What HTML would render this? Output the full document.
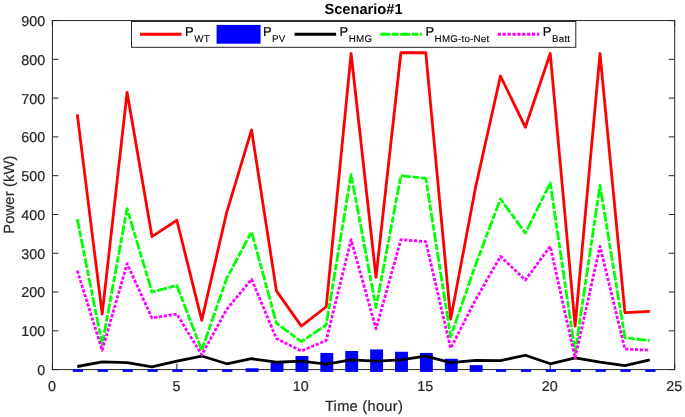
<!DOCTYPE html><html><head><meta charset="utf-8"><title>Scenario#1</title>
<style>html,body{margin:0;padding:0;background:#fff}svg{display:block}text{font-family:"Liberation Sans",Arial,Helvetica,sans-serif;text-rendering:geometricPrecision}.t{fill:#262626;stroke:#262626;stroke-width:0.2px}.k{fill:#000}</style></head><body>
<svg width="685" height="417" viewBox="0 0 685 417">
<rect width="685" height="417" fill="#fff"/>
<rect x="52.4" y="20.55" width="622.3000000000001" height="349.05" fill="none" stroke="#262626" stroke-width="1"/>
<line x1="52.40" y1="369.6" x2="52.40" y2="363.6" stroke="#262626" stroke-width="1"/>
<line x1="52.40" y1="20.55" x2="52.40" y2="26.55" stroke="#262626" stroke-width="1"/>
<text x="51.90" y="391.0" font-size="14.3" text-anchor="middle" class="t">0</text>
<line x1="176.86" y1="369.6" x2="176.86" y2="363.6" stroke="#262626" stroke-width="1"/>
<line x1="176.86" y1="20.55" x2="176.86" y2="26.55" stroke="#262626" stroke-width="1"/>
<text x="176.36" y="391.0" font-size="14.3" text-anchor="middle" class="t">5</text>
<line x1="301.32" y1="369.6" x2="301.32" y2="363.6" stroke="#262626" stroke-width="1"/>
<line x1="301.32" y1="20.55" x2="301.32" y2="26.55" stroke="#262626" stroke-width="1"/>
<text x="300.82" y="391.0" font-size="14.3" text-anchor="middle" class="t">10</text>
<line x1="425.78" y1="369.6" x2="425.78" y2="363.6" stroke="#262626" stroke-width="1"/>
<line x1="425.78" y1="20.55" x2="425.78" y2="26.55" stroke="#262626" stroke-width="1"/>
<text x="425.28" y="391.0" font-size="14.3" text-anchor="middle" class="t">15</text>
<line x1="550.24" y1="369.6" x2="550.24" y2="363.6" stroke="#262626" stroke-width="1"/>
<line x1="550.24" y1="20.55" x2="550.24" y2="26.55" stroke="#262626" stroke-width="1"/>
<text x="549.74" y="391.0" font-size="14.3" text-anchor="middle" class="t">20</text>
<line x1="674.70" y1="369.6" x2="674.70" y2="363.6" stroke="#262626" stroke-width="1"/>
<line x1="674.70" y1="20.55" x2="674.70" y2="26.55" stroke="#262626" stroke-width="1"/>
<text x="674.20" y="391.0" font-size="14.3" text-anchor="middle" class="t">25</text>
<line x1="52.4" y1="369.60" x2="58.4" y2="369.60" stroke="#262626" stroke-width="1"/>
<line x1="674.7" y1="369.60" x2="668.7" y2="369.60" stroke="#262626" stroke-width="1"/>
<text x="45.2" y="375.00" font-size="14.3" text-anchor="end" class="t">0</text>
<line x1="52.4" y1="330.82" x2="58.4" y2="330.82" stroke="#262626" stroke-width="1"/>
<line x1="674.7" y1="330.82" x2="668.7" y2="330.82" stroke="#262626" stroke-width="1"/>
<text x="45.2" y="336.22" font-size="14.3" text-anchor="end" class="t">100</text>
<line x1="52.4" y1="292.03" x2="58.4" y2="292.03" stroke="#262626" stroke-width="1"/>
<line x1="674.7" y1="292.03" x2="668.7" y2="292.03" stroke="#262626" stroke-width="1"/>
<text x="45.2" y="297.43" font-size="14.3" text-anchor="end" class="t">200</text>
<line x1="52.4" y1="253.25" x2="58.4" y2="253.25" stroke="#262626" stroke-width="1"/>
<line x1="674.7" y1="253.25" x2="668.7" y2="253.25" stroke="#262626" stroke-width="1"/>
<text x="45.2" y="258.65" font-size="14.3" text-anchor="end" class="t">300</text>
<line x1="52.4" y1="214.47" x2="58.4" y2="214.47" stroke="#262626" stroke-width="1"/>
<line x1="674.7" y1="214.47" x2="668.7" y2="214.47" stroke="#262626" stroke-width="1"/>
<text x="45.2" y="219.87" font-size="14.3" text-anchor="end" class="t">400</text>
<line x1="52.4" y1="175.68" x2="58.4" y2="175.68" stroke="#262626" stroke-width="1"/>
<line x1="674.7" y1="175.68" x2="668.7" y2="175.68" stroke="#262626" stroke-width="1"/>
<text x="45.2" y="181.08" font-size="14.3" text-anchor="end" class="t">500</text>
<line x1="52.4" y1="136.90" x2="58.4" y2="136.90" stroke="#262626" stroke-width="1"/>
<line x1="674.7" y1="136.90" x2="668.7" y2="136.90" stroke="#262626" stroke-width="1"/>
<text x="45.2" y="142.30" font-size="14.3" text-anchor="end" class="t">600</text>
<line x1="52.4" y1="98.12" x2="58.4" y2="98.12" stroke="#262626" stroke-width="1"/>
<line x1="674.7" y1="98.12" x2="668.7" y2="98.12" stroke="#262626" stroke-width="1"/>
<text x="45.2" y="103.52" font-size="14.3" text-anchor="end" class="t">700</text>
<line x1="52.4" y1="59.33" x2="58.4" y2="59.33" stroke="#262626" stroke-width="1"/>
<line x1="674.7" y1="59.33" x2="668.7" y2="59.33" stroke="#262626" stroke-width="1"/>
<text x="45.2" y="64.73" font-size="14.3" text-anchor="end" class="t">800</text>
<line x1="52.4" y1="20.55" x2="58.4" y2="20.55" stroke="#262626" stroke-width="1"/>
<line x1="674.7" y1="20.55" x2="668.7" y2="20.55" stroke="#262626" stroke-width="1"/>
<text x="45.2" y="25.95" font-size="14.3" text-anchor="end" class="t">900</text>
<rect x="72.79" y="369.40" width="10.20" height="2.50" fill="#0000ff"/>
<rect x="97.68" y="369.40" width="10.20" height="2.50" fill="#0000ff"/>
<rect x="122.58" y="369.40" width="10.20" height="2.50" fill="#0000ff"/>
<rect x="147.47" y="369.40" width="10.20" height="2.50" fill="#0000ff"/>
<rect x="172.36" y="369.40" width="10.20" height="2.50" fill="#0000ff"/>
<rect x="197.25" y="369.40" width="10.20" height="2.50" fill="#0000ff"/>
<rect x="222.14" y="369.40" width="10.20" height="2.50" fill="#0000ff"/>
<rect x="245.69" y="368.28" width="12.90" height="3.62" fill="#0000ff"/>
<rect x="270.58" y="362.43" width="12.90" height="9.47" fill="#0000ff"/>
<rect x="295.47" y="356.03" width="12.90" height="15.87" fill="#0000ff"/>
<rect x="320.36" y="352.92" width="12.90" height="18.98" fill="#0000ff"/>
<rect x="345.25" y="350.98" width="12.90" height="20.92" fill="#0000ff"/>
<rect x="370.15" y="349.43" width="12.90" height="22.47" fill="#0000ff"/>
<rect x="395.04" y="351.76" width="12.90" height="20.14" fill="#0000ff"/>
<rect x="419.93" y="352.92" width="12.90" height="18.98" fill="#0000ff"/>
<rect x="444.82" y="358.74" width="12.90" height="13.16" fill="#0000ff"/>
<rect x="469.71" y="365.14" width="12.90" height="6.76" fill="#0000ff"/>
<rect x="495.96" y="369.40" width="10.20" height="2.50" fill="#0000ff"/>
<rect x="520.85" y="369.40" width="10.20" height="2.50" fill="#0000ff"/>
<rect x="545.74" y="369.40" width="10.20" height="2.50" fill="#0000ff"/>
<rect x="570.63" y="369.40" width="10.20" height="2.50" fill="#0000ff"/>
<rect x="595.52" y="369.40" width="10.20" height="2.50" fill="#0000ff"/>
<rect x="620.42" y="369.40" width="10.20" height="2.50" fill="#0000ff"/>
<rect x="645.31" y="369.40" width="10.20" height="2.50" fill="#0000ff"/>
<polyline points="77.29,114.41 102.18,314.14 127.08,92.30 151.97,236.57 176.86,220.28 201.75,320.35 226.64,212.53 251.54,129.92 276.43,290.87 301.32,326.16 326.21,306.77 351.10,53.52 376.00,277.30 400.89,52.74 425.78,52.74 450.67,319.18 475.56,187.32 500.46,76.01 525.35,127.20 550.24,53.52 575.13,326.16 600.02,53.52 624.92,312.59 649.81,311.43" fill="none" stroke="#ff0000" stroke-width="2.8" stroke-linejoin="round"/>
<polyline points="77.29,366.50 102.18,361.84 127.08,362.62 151.97,366.89 176.86,361.07 201.75,356.03 226.64,363.78 251.54,358.74 276.43,362.23 301.32,361.07 326.21,364.17 351.10,359.90 376.00,361.07 400.89,359.90 425.78,356.03 450.67,362.62 475.56,360.29 500.46,360.68 525.35,355.25 550.24,363.78 575.13,357.97 600.02,362.23 624.92,365.72 649.81,359.90" fill="none" stroke="#000" stroke-width="2.8" stroke-linejoin="round"/>
<polyline points="77.29,219.12 102.18,344.39 127.08,208.65 151.97,292.03 176.86,285.44 201.75,350.21 226.64,278.46 251.54,231.92 276.43,323.06 301.32,341.68 326.21,325.00 351.10,174.52 376.00,307.55 400.89,175.68 425.78,178.40 450.67,336.63 475.56,264.88 500.46,198.95 525.35,233.08 550.24,183.05 575.13,352.15 600.02,185.38 624.92,337.80 649.81,340.51" fill="none" stroke="#00ff00" stroke-width="2.8" stroke-dasharray="10,1.7,6.5,1.7" stroke-linejoin="round"/>
<polyline points="77.29,270.70 102.18,350.21 127.08,263.72 151.97,318.02 176.86,314.14 201.75,354.86 226.64,309.49 251.54,279.23 276.43,338.57 301.32,350.98 326.21,340.51 351.10,239.68 376.00,328.88 400.89,239.68 425.78,241.62 450.67,348.27 475.56,299.79 500.46,256.35 525.35,280.01 550.24,246.27 575.13,357.97 600.02,246.27 624.92,349.04 649.81,350.21" fill="none" stroke="#ff00ff" stroke-width="2.8" stroke-dasharray="3.2,1.7" stroke-linejoin="round"/>
<rect x="131.5" y="21.5" width="444.3" height="25.8" fill="#fff" stroke="#262626" stroke-width="1"/>
<line x1="140" y1="34.3" x2="181.6" y2="34.3" stroke="#ff0000" stroke-width="3.0"/><text x="185.1" y="36.4" font-size="12.9" class="k" stroke="#000" stroke-width="0.2">P<tspan stroke-width="0.08" dy="5.5" dx="0.6" font-size="9.8" letter-spacing="0.2">WT</tspan></text>
<rect x="216.6" y="24.9" width="44" height="18.8" fill="#0000ff"/><text x="262.9" y="36.4" font-size="12.9" class="k" stroke="#000" stroke-width="0.2">P<tspan stroke-width="0.08" dy="5.5" dx="0.6" font-size="9.8" letter-spacing="0.2">PV</tspan></text>
<line x1="294.5" y1="34.3" x2="336.1" y2="34.3" stroke="#000" stroke-width="3.0"/><text x="339.59999999999997" y="36.4" font-size="12.9" class="k" stroke="#000" stroke-width="0.2">P<tspan stroke-width="0.08" dy="5.5" dx="0.6" font-size="9.8" letter-spacing="0.2">HMG</tspan></text>
<line x1="380.3" y1="34.3" x2="421.90000000000003" y2="34.3" stroke="#00ff00" stroke-width="3.0" stroke-dasharray="10,1.7,6.5,1.7"/><text x="425.4" y="36.4" font-size="12.9" class="k" stroke="#000" stroke-width="0.2">P<tspan stroke-width="0.08" dy="5.5" dx="0.6" font-size="9.8" letter-spacing="0.2">HMG-to-Net</tspan></text>
<line x1="497.7" y1="34.3" x2="539.3" y2="34.3" stroke="#ff00ff" stroke-width="3.0" stroke-dasharray="3.2,1.7"/><text x="542.8000000000001" y="36.4" font-size="12.9" class="k" stroke="#000" stroke-width="0.2">P<tspan stroke-width="0.08" dy="5.5" dx="0.6" font-size="9.8" letter-spacing="0.2">Batt</tspan></text>
<text x="363.5" y="14" font-size="14.67" font-weight="bold" text-anchor="middle" class="k">Scenario#1</text>
<text x="364" y="410.6" font-size="14.7" letter-spacing="0.25" text-anchor="middle" class="t">Time (hour)</text>
<text transform="translate(13.9,194.6) rotate(-90)" font-size="14.7" letter-spacing="0.15" text-anchor="middle" class="t">Power (kW)</text>
</svg></body></html>
